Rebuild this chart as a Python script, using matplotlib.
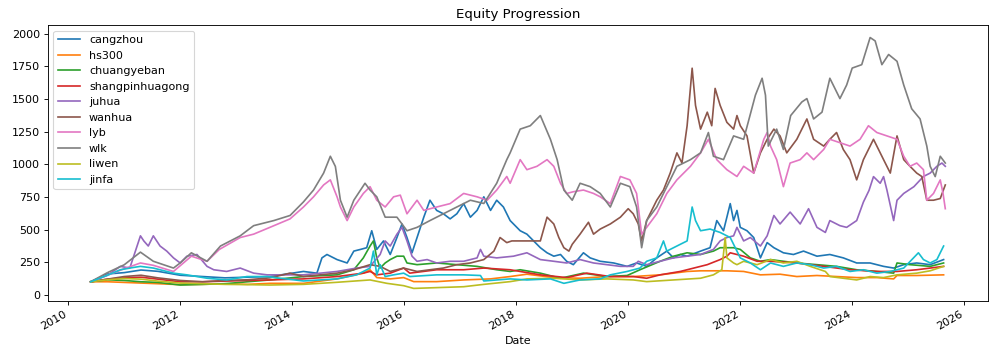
import numpy as np
import pandas as pd
import matplotlib
matplotlib.use('Agg')
import matplotlib.pyplot as plt

# values, times as decimal years

cangzhou_t = [2010.4, 2010.7, 2011.0, 2011.3, 2011.6, 2012.0, 2012.4, 2012.8, 2013.2, 2013.6,
              2014.2, 2014.44, 2014.53, 2014.62, 2014.8, 2014.98, 2015.1, 2015.22, 2015.33, 2015.42,
              2015.51, 2015.63, 2015.75, 2015.87, 2015.96, 2016.05, 2016.14, 2016.23, 2016.35,
              2016.46, 2016.58, 2016.7, 2016.82, 2016.94, 2017.06, 2017.18, 2017.3, 2017.42, 2017.54,
              2017.65, 2017.77, 2017.89, 2018.07, 2018.19, 2018.31, 2018.43, 2018.55, 2018.67,
              2018.79, 2018.9, 2019.02, 2019.2, 2019.32, 2019.5, 2019.74, 2019.98, 2020.15, 2020.33,
              2020.51, 2020.69, 2020.81, 2020.93, 2021.05, 2021.29, 2021.46, 2021.58, 2021.7,
              2021.82, 2021.88, 2021.94, 2022.0, 2022.12, 2022.24, 2022.36, 2022.48, 2022.6, 2022.77,
              2022.95, 2023.13, 2023.37, 2023.6, 2023.84, 2024.08, 2024.32, 2024.56, 2024.74,
              2024.92, 2025.15, 2025.39, 2025.63]
cangzhou_v = [100, 160, 170, 190, 180, 150, 140, 130, 135, 140,
              179, 166, 283, 309, 270, 244, 335, 348, 361, 491,
              348, 413, 309, 439, 543, 439, 322, 439, 595,
              725, 647, 621, 582, 621, 699, 595, 647, 751, 647,
              725, 673, 569, 491, 465, 413, 361, 322, 296,
              309, 257, 231, 322, 283, 257, 244, 218, 244, 218,
              283, 335, 283, 309, 296, 335, 361, 569, 491,
              699, 569, 647, 517, 491, 439, 283, 400, 361, 322,
              309, 335, 296, 309, 283, 244, 244, 218, 205,
              231, 244, 231, 270]

hs300_t = [2010.4, 2010.7, 2011.0, 2011.3, 2011.6, 2012.0, 2012.4, 2012.8, 2013.2, 2013.6,
           2014.2, 2014.8, 2015.27, 2015.39, 2015.51, 2015.75, 2015.99, 2016.17, 2016.58,
           2017.06, 2017.54, 2017.89, 2018.19, 2018.67, 2019.14, 2019.62, 2020.09, 2020.57,
           2021.05, 2021.29, 2021.76, 2022.06, 2022.36, 2022.71, 2023.01, 2023.37, 2023.72,
           2024.08, 2024.44, 2024.74, 2024.8, 2025.15, 2025.63]
hs300_v = [100, 100, 95, 90, 85, 78, 80, 85, 80, 88,
           88, 122, 166, 192, 132, 122, 132, 101, 101,
           114, 122, 140, 158, 132, 127, 140, 140, 153,
           179, 184, 184, 179, 153, 158, 140, 148, 140,
           132, 132, 122, 148, 148, 153]

chuangyeban_t = [2010.4, 2010.7, 2011.0, 2011.3, 2011.6, 2012.0, 2012.4, 2012.8, 2013.2, 2013.6,
                 2014.2, 2014.8, 2015.1, 2015.27, 2015.39, 2015.45, 2015.51, 2015.57, 2015.66,
                 2015.75, 2015.87, 2015.99, 2016.05, 2016.23, 2016.58, 2016.94, 2017.3, 2017.65,
                 2017.89, 2018.07, 2018.43, 2018.79, 2019.2, 2019.62, 2019.98, 2020.21, 2020.57,
                 2020.81, 2021.05, 2021.29, 2021.52, 2021.64, 2021.88, 2022.0, 2022.18, 2022.36,
                 2022.54, 2022.77, 2023.01, 2023.37, 2023.72, 2024.08, 2024.44, 2024.74, 2024.8,
                 2025.03, 2025.39, 2025.63]
chuangyeban_v = [100, 115, 110, 100, 95, 75, 80, 85, 100, 114,
                 140, 153, 192, 283, 374, 413, 283, 205, 244,
                 270, 296, 296, 244, 231, 244, 231, 218, 192,
                 179, 192, 166, 127, 166, 140, 148, 192, 257,
                 296, 322, 309, 335, 361, 361, 348, 283, 257,
                 270, 257, 244, 231, 218, 192, 179, 166, 244,
                 231, 218, 244]

shangpinhuagong_t = [2010.4, 2010.7, 2011.0, 2011.3, 2011.6, 2012.0, 2012.4, 2012.8, 2013.2, 2013.6,
                     2014.2, 2014.8, 2015.27, 2015.39, 2015.51, 2015.75, 2015.99, 2016.1, 2016.58,
                     2017.06, 2017.42, 2017.89, 2018.07, 2018.43, 2018.9, 2019.26, 2019.68, 2020.09,
                     2020.33, 2020.57, 2020.93, 2021.17, 2021.41, 2021.64, 2021.76, 2021.82, 2022.06,
                     2022.3, 2022.54, 2023.01, 2023.49, 2023.96, 2024.44, 2024.8, 2025.15, 2025.63]
shangpinhuagong_v = [100, 120, 130, 135, 120, 100, 100, 105, 110, 114,
                     122, 140, 166, 179, 153, 166, 205, 166, 192,
                     192, 205, 192, 179, 153, 132, 166, 140, 140,
                     127, 153, 179, 205, 231, 270, 296, 322, 296,
                     257, 257, 244, 218, 192, 179, 179, 192, 218]

juhua_t = [2010.4, 2010.7, 2010.93, 2011.1, 2011.29, 2011.35, 2011.43, 2011.52, 2011.64, 2011.76,
           2011.88, 2012.0, 2012.12, 2012.3, 2012.48, 2012.6, 2012.83, 2013.07, 2013.31, 2013.55,
           2014.2, 2014.8, 2015.15, 2015.39, 2015.57, 2015.66, 2015.75, 2015.87, 2015.96, 2016.05,
           2016.14, 2016.23, 2016.41, 2016.58, 2016.82, 2017.06, 2017.3, 2017.36, 2017.42, 2017.65,
           2017.95, 2018.19, 2018.43, 2018.67, 2018.9, 2019.14, 2019.38, 2019.62, 2019.86, 2020.09,
           2020.18, 2020.33, 2020.57, 2020.81, 2021.05, 2021.29, 2021.52, 2021.64, 2021.76, 2021.88,
           2021.94, 2022.06, 2022.18, 2022.36, 2022.48, 2022.6, 2022.71, 2022.89, 2023.07, 2023.22,
           2023.37, 2023.52, 2023.6, 2023.78, 2023.9, 2024.08, 2024.2, 2024.3, 2024.38, 2024.5,
           2024.56, 2024.62, 2024.74, 2024.8, 2024.92, 2025.1, 2025.27, 2025.39, 2025.51, 2025.6,
           2025.66]
juhua_v = [100, 150, 218, 205, 452, 413, 374, 452, 374, 335,
           283, 244, 296, 309, 218, 192, 179, 205, 166, 153,
           153, 179, 205, 218, 309, 413, 374, 465, 517, 413,
           296, 257, 270, 244, 257, 257, 283, 348, 296, 283,
           296, 322, 270, 257, 244, 270, 244, 231, 218, 218,
           257, 231, 257, 283, 296, 309, 348, 413, 439, 452,
           517, 413, 439, 374, 452, 608, 543, 634, 543, 660,
           517, 478, 569, 530, 517, 569, 711, 800, 906, 855,
           906, 803, 569, 725, 777, 829, 907, 933, 985, 1010,
           985]

wanhua_t = [2010.4, 2010.7, 2011.0, 2011.3, 2011.6, 2012.0, 2012.4, 2012.8, 2013.2, 2013.6,
            2013.96, 2014.2, 2014.5, 2014.8, 2015.1, 2015.39, 2015.57, 2015.75, 2015.99, 2016.23,
            2016.46, 2016.7, 2016.94, 2017.18, 2017.42, 2017.6, 2017.71, 2017.83, 2017.92, 2018.43,
            2018.55, 2018.67, 2018.76, 2018.85, 2018.94, 2019.0, 2019.14, 2019.29, 2019.38, 2019.5,
            2019.68, 2019.86, 2020.0, 2020.09, 2020.18, 2020.24, 2020.33, 2020.51, 2020.63, 2020.75,
            2020.87, 2020.96, 2021.05, 2021.14, 2021.2, 2021.29, 2021.41, 2021.49, 2021.55, 2021.64,
            2021.76, 2021.88, 2021.94, 2022.0, 2022.12, 2022.24, 2022.36, 2022.48, 2022.6, 2022.71,
            2022.83, 2023.01, 2023.19, 2023.31, 2023.49, 2023.6, 2023.72, 2023.84, 2023.96, 2024.08,
            2024.2, 2024.38, 2024.56, 2024.68, 2024.8, 2024.92, 2025.03, 2025.15, 2025.24, 2025.33,
            2025.45, 2025.57, 2025.66]
wanhua_v = [100, 120, 140, 150, 130, 110, 100, 110, 115, 130,
            166, 140, 153, 166, 192, 231, 218, 179, 205, 179,
            192, 205, 231, 244, 270, 335, 439, 400, 413, 413,
            595, 543, 439, 361, 335, 387, 465, 556, 465, 504,
            543, 595, 660, 621, 543, 413, 569, 725, 803, 933,
            1088, 1010, 1296, 1737, 1452, 1270, 1400, 1296, 1582, 1452,
            1322, 1270, 1374, 1296, 1218, 933, 1088, 1192, 1270, 1218,
            1088, 1192, 1348, 1192, 1140, 1192, 1244, 1114, 1036, 881,
            1036, 1192, 1036, 933, 1218, 1036, 985, 933, 907, 725,
            725, 738, 842]

lyb_t = [2010.4, 2010.7, 2011.0, 2011.29, 2011.52, 2011.88, 2012.2, 2012.48, 2012.7, 2013.07,
         2013.31, 2013.6, 2013.96, 2014.2, 2014.38, 2014.56, 2014.68, 2014.8, 2014.86, 2014.98,
         2015.1, 2015.27, 2015.39, 2015.51, 2015.66, 2015.81, 2015.93, 2016.05, 2016.23, 2016.35,
         2016.58, 2016.82, 2017.06, 2017.3, 2017.48, 2017.65, 2017.83, 2017.89, 2018.07, 2018.19,
         2018.37, 2018.55, 2018.67, 2018.79, 2018.9, 2019.02, 2019.2, 2019.38, 2019.5, 2019.68,
         2019.86, 2020.03, 2020.15, 2020.24, 2020.33, 2020.51, 2020.69, 2020.87, 2021.11, 2021.29,
         2021.43, 2021.58, 2021.76, 2021.94, 2022.06, 2022.24, 2022.42, 2022.48, 2022.54, 2022.65,
         2022.77, 2022.89, 2023.07, 2023.19, 2023.31, 2023.49, 2023.6, 2023.78, 2023.96, 2024.14,
         2024.29, 2024.44, 2024.62, 2024.8, 2024.92, 2025.03, 2025.15, 2025.27, 2025.33, 2025.45,
         2025.57, 2025.62, 2025.66]
lyb_v = [100, 150, 200, 244, 226, 179, 296, 257, 348, 439,
         465, 517, 582, 673, 751, 842, 881, 751, 673, 569,
         673, 777, 829, 725, 673, 751, 764, 621, 725, 647,
         673, 699, 777, 751, 725, 803, 907, 855, 1036, 959,
         985, 1036, 985, 855, 777, 790, 803, 777, 751, 699,
         907, 881, 777, 465, 517, 621, 777, 881, 985, 1088,
         1192, 1036, 959, 907, 985, 933, 1192, 1244, 1140, 1036,
         829, 1010, 1036, 1088, 1036, 1114, 1192, 1166, 1140, 1192,
         1296, 1244, 1218, 1192, 1062, 985, 1010, 959, 725, 777,
         881, 777, 660]

wlk_t = [2010.4, 2010.7, 2011.0, 2011.29, 2011.52, 2011.88, 2012.0, 2012.2, 2012.48, 2012.72,
         2013.07, 2013.31, 2013.67, 2013.96, 2014.2, 2014.38, 2014.56, 2014.68, 2014.77, 2014.86,
         2014.98, 2015.1, 2015.3, 2015.39, 2015.51, 2015.66, 2015.87, 2016.05, 2016.23, 2016.46,
         2016.7, 2016.94, 2017.18, 2017.42, 2017.65, 2017.83, 2017.89, 2018.07, 2018.25, 2018.43,
         2018.61, 2018.73, 2018.85, 2019.0, 2019.14, 2019.32, 2019.5, 2019.68, 2019.86, 2020.03,
         2020.15, 2020.24, 2020.33, 2020.51, 2020.69, 2020.87, 2021.11, 2021.29, 2021.43, 2021.52,
         2021.7, 2021.88, 2022.06, 2022.27, 2022.39, 2022.45, 2022.5, 2022.65, 2022.77, 2022.9,
         2023.1, 2023.19, 2023.31, 2023.46, 2023.6, 2023.78, 2023.9, 2024.0, 2024.17, 2024.32,
         2024.41, 2024.53, 2024.65, 2024.8, 2024.92, 2025.06, 2025.21, 2025.33, 2025.39, 2025.48,
         2025.57, 2025.66]
wlk_v = [100, 170, 230, 327, 257, 205, 244, 322, 257, 374,
         452, 530, 569, 608, 712, 803, 933, 1062, 984, 725,
         595, 725, 855, 803, 751, 595, 595, 491, 517, 569,
         621, 673, 725, 700, 855, 1036, 1088, 1270, 1296, 1374,
         1192, 1036, 803, 725, 855, 829, 777, 673, 855, 829,
         673, 361, 569, 673, 829, 985, 1036, 1088, 1244, 1062,
         1036, 1218, 1192, 1530, 1660, 1530, 1140, 1270, 1114, 1374,
         1478, 1504, 1348, 1400, 1660, 1504, 1608, 1738, 1764, 1972,
         1946, 1764, 1842, 1790, 1608, 1426, 1348, 1140, 985, 906,
         1062, 1010]

liwen_t = [2010.4, 2010.7, 2011.0, 2011.3, 2011.6, 2012.0, 2012.4, 2012.8, 2013.2, 2013.6,
           2014.2, 2014.8, 2015.39, 2015.69, 2015.99, 2016.17, 2016.58, 2017.06, 2017.42, 2017.89,
           2018.19, 2018.67, 2019.14, 2019.62, 2020.09, 2020.33, 2020.81, 2021.29, 2021.52,
           2021.67, 2021.73, 2021.76, 2021.88, 2021.94, 2022.06, 2022.3, 2022.54, 2022.77, 2023.01,
           2023.25, 2023.52, 2023.6, 2023.84, 2024.08, 2024.32, 2024.56, 2024.8, 2025.15, 2025.39,
           2025.63]
liwen_v = [100, 115, 125, 120, 105, 90, 85, 80, 78, 75,
           80, 96, 114, 88, 70, 49, 55, 62, 80, 101,
           122, 127, 114, 122, 114, 101, 114, 127, 153,
           192, 439, 283, 244, 231, 257, 231, 270, 244, 257,
           218, 179, 140, 127, 114, 140, 132, 153, 166, 184,
           218]

jinfa_t = [2010.4, 2010.7, 2010.93, 2011.17, 2011.29, 2011.52, 2011.88, 2012.12, 2012.48, 2012.83,
           2013.19, 2013.55, 2013.79, 2014.2, 2014.8, 2015.15, 2015.39, 2015.45, 2015.51, 2015.57,
           2015.66, 2015.81, 2015.99, 2016.1, 2016.58, 2017.06, 2017.36, 2017.42, 2017.89, 2018.19,
           2018.61, 2018.85, 2019.14, 2019.5, 2019.68, 2019.98, 2020.21, 2020.33, 2020.51, 2020.63,
           2020.69, 2020.81, 2020.93, 2021.05, 2021.14, 2021.2, 2021.29, 2021.46, 2021.64, 2021.82,
           2021.94, 2022.0, 2022.18, 2022.36, 2022.54, 2022.77, 2023.01, 2023.25, 2023.49, 2023.72,
           2023.96, 2024.2, 2024.44, 2024.68, 2024.92, 2025.18, 2025.27, 2025.39, 2025.51, 2025.63]
jinfa_v = [100, 150, 192, 210, 218, 205, 166, 153, 127, 114,
           140, 140, 127, 106, 122, 153, 205, 335, 153, 231,
           140, 153, 166, 140, 153, 153, 148, 106, 122, 114,
           122, 88, 114, 122, 153, 179, 205, 257, 283, 413,
           335, 361, 387, 413, 673, 569, 491, 504, 478, 439,
           335, 283, 244, 192, 244, 218, 244, 231, 205, 218,
           179, 192, 166, 179, 205, 322, 270, 244, 270, 374]

names = ['cangzhou', 'hs300', 'chuangyeban', 'shangpinhuagong', 'juhua',
         'wanhua', 'lyb', 'wlk', 'liwen', 'jinfa']
series = [(cangzhou_t, cangzhou_v), (hs300_t, hs300_v), (chuangyeban_t, chuangyeban_v),
          (shangpinhuagong_t, shangpinhuagong_v), (juhua_t, juhua_v), (wanhua_t, wanhua_v),
          (lyb_t, lyb_v), (wlk_t, wlk_v), (liwen_t, liwen_v), (jinfa_t, jinfa_v)]


def to_dates(years):
    # decimal year -> timestamp
    out = []
    for y in years:
        yr = int(y)
        out.append(pd.Timestamp(year=yr, month=1, day=1) + pd.Timedelta(days=(y - yr) * 365.25))
    return out


# reference looks like a bigger figure shrunk down, so render at 80 dpi
fig, ax = plt.subplots(figsize=(12.475, 4.4), dpi=80)
for name, (t, v) in zip(names, series):
    ax.plot(to_dates(t), v, label=name)

ax.set_title('Equity Progression')
ax.set_xlabel('Date')
ax.legend(loc='upper left')
fig.autofmt_xdate()
fig.subplots_adjust(left=0.048, right=0.99, top=0.929, bottom=0.145)

fig.savefig('out.png', dpi=80)
